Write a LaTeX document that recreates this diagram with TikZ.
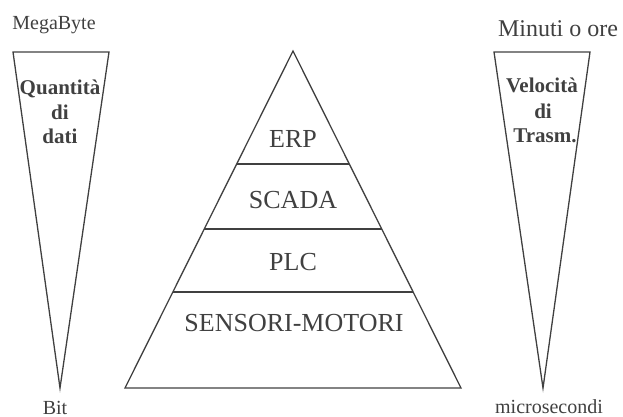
\documentclass[tikz,border=0pt]{standalone}
\usepackage{fontspec}
\setmainfont{Liberation Serif}
\usetikzlibrary{calc}
\begin{document}
\begin{tikzpicture}[x=1pt,y=-1pt,
  edge/.style={draw=black!75, line width=1.3pt, line join=miter},
  label/.style={text=black!75, inner sep=0pt, anchor=base},
  level/.style={label, font=\fontsize{26}{28}\selectfont},
  endtxt/.style={label, font=\fontsize{20}{22}\selectfont},
  inner/.style={label, font=\bfseries\fontsize{21}{24}\selectfont, align=center}]
\useasboundingbox (0,0) rectangle (623,417);

% central pyramid
\coordinate (apex) at (293,51);
\coordinate (bl) at (125,388);
\coordinate (br) at (461,388);
\draw[edge] (apex) -- (bl) -- (br) -- cycle;
\foreach \t/\n in {0.3353/a,0.528/b,0.715/c}{
  \coordinate (l\n) at ($(apex)!\t!(bl)$);
  \coordinate (r\n) at ($(apex)!\t!(br)$);
  \draw[edge] (l\n) -- (r\n);
}
\node[level] (erp) at (293,147) {ERP};
\node[level] (scada) at (293,208) {SCADA};
\node[level] (plc) at (293,270) {PLC};
\node[level] (sens) at (294,331) {SENSORI-MOTORI};

% left wedge: amount of data
\coordinate (qa) at (13,52);
\coordinate (qb) at (109,52);
\coordinate (qc) at (60,388);
\draw[edge] (qa) -- (qb) -- (qc) -- cycle;
\node[endtxt] (mb) at (54,30) {MegaByte};
\node[endtxt] (bit) at (55,414) {Bit};
\node[inner] (q1) at (60,95) {Quantità};
\node[inner] (q2) at (60,120) {di};
\node[inner] (q3) at (60,143) {dati};

% right wedge: transmission speed
\coordinate (va) at (494,52);
\coordinate (vb) at (590,52);
\coordinate (vc) at (543,388);
\draw[edge] (va) -- (vb) -- (vc) -- cycle;
\node[label, font=\fontsize{24}{26}\selectfont] (min) at (558,37) {Minuti o ore};
\node[endtxt] (mic) at (549,413) {microsecondi};
\node[inner] (v1) at (542,93) {Velocità};
\node[inner] (v2) at (543,118) {di};
\node[inner] (v3) at (545,142) {Trasm.};
\end{tikzpicture}
\end{document}
